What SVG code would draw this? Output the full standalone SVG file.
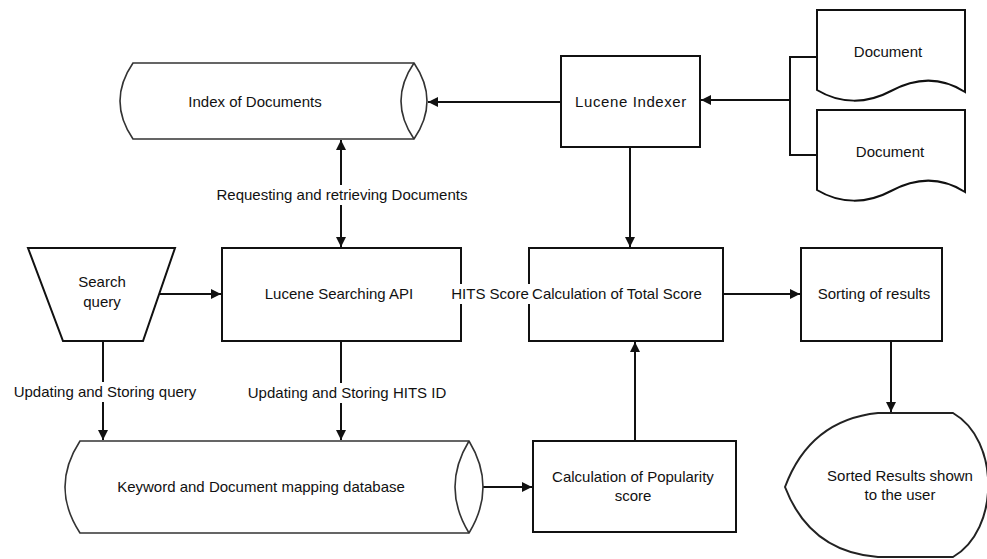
<svg xmlns="http://www.w3.org/2000/svg" width="987" height="559" viewBox="0 0 987 559">
<style>
.box{fill:#fff;stroke:#111;stroke-width:2}
.cyl{fill:#fff;stroke:#333;stroke-width:1.6}
.ln{fill:none;stroke:#111;stroke-width:2}
.t{font-family:"Liberation Sans",Arial,sans-serif;font-size:15px;fill:#111;text-anchor:middle}
.bg{fill:#fff;stroke:none}
</style>
<defs>
<marker id="ah" viewBox="0 0 10 10" refX="10" refY="5" markerWidth="10" markerHeight="10" markerUnits="userSpaceOnUse" orient="auto-start-reverse">
<path d="M0,0 L10,5 L0,10 Z" fill="#111"/>
</marker>
</defs>
<rect width="987" height="559" fill="#fff"/>

<g id="connectors">
<path class="ln" d="M561,102 H428" marker-end="url(#ah)"/>
<path class="ln" d="M817,57 H790 V155 H817 M790,100 H701" marker-end="url(#ah)"/>
<path class="ln" d="M630,147 V247" marker-end="url(#ah)"/>
<path class="ln" d="M341,140 V247" marker-start="url(#ah)" marker-end="url(#ah)"/>
<path class="ln" d="M157,294 H221" marker-end="url(#ah)"/>
<path class="ln" d="M723,294 H800" marker-end="url(#ah)"/>
<path class="ln" d="M891,341 V412" marker-end="url(#ah)"/>
<path class="ln" d="M103,341 V440" marker-end="url(#ah)"/>
<path class="ln" d="M341,341 V440" marker-end="url(#ah)"/>
<path class="ln" d="M483,487 H532" marker-end="url(#ah)"/>
<path class="ln" d="M635,441 V342" marker-end="url(#ah)"/>
<rect class="bg" x="214" y="185" width="256" height="20"/>
<text class="t" x="342" y="200">Requesting and retrieving Documents</text>
<rect class="bg" x="12" y="382" width="186" height="20"/>
<text class="t" x="105" y="397">Updating and Storing query</text>
<rect class="bg" x="243" y="383" width="207" height="20"/>
<text class="t" x="347" y="398">Updating and Storing HITS ID</text>
</g>

<g id="index-of-documents">
<path class="cyl" d="M133,63 H414 Q440,101 414,139 H133 Q107,101 133,63 Z"/>
<path class="cyl" fill="none" d="M414,63 Q388,101 414,139"/>
<text class="t" x="255" y="107">Index of Documents</text>
</g>

<g id="lucene-indexer">
<rect class="box" x="561" y="56" width="139" height="91"/>
<text class="t" x="631" y="107" style="letter-spacing:0.6px">Lucene Indexer</text>
</g>

<g id="document-1">
<path class="box" d="M817,10 H965 V92 C940,76 915,78 891,91 C867,104 840,104 817,90 Z"/>
<text class="t" x="888" y="57">Document</text>
</g>

<g id="document-2">
<path class="box" d="M817,110 H965 V192 C940,176 915,178 891,191 C867,204 840,204 817,190 Z"/>
<text class="t" x="890" y="157">Document</text>
</g>

<g id="search-query">
<path class="box" d="M28,248 H175 L143,341 H63 Z"/>
<text class="t" x="102" y="287">Search</text>
<text class="t" x="102" y="307">query</text>
</g>

<g id="lucene-searching-api">
<rect class="box" x="222" y="248" width="239" height="93"/>
<text class="t" x="339" y="299">Lucene Searching API</text>
</g>

<g id="total-score">
<rect class="box" x="529" y="248" width="194" height="93"/>
</g>

<g id="sorting">
<rect class="box" x="801" y="248" width="141" height="93"/>
<text class="t" x="874" y="299">Sorting of results</text>
</g>

<g id="hits-label">
<rect class="bg" x="451" y="284" width="254" height="20"/>
<text class="t" x="490" y="299">HITS Score</text>
<text class="t" x="617" y="299">Calculation of Total Score</text>
</g>

<g id="keyword-db">
<path class="cyl" d="M80,441 H469 Q497,487 469,533 H80 Q50,487 80,441 Z"/>
<path class="cyl" fill="none" d="M469,441 Q441,487 469,533"/>
<text class="t" x="261" y="492">Keyword and Document mapping database</text>
</g>

<g id="popularity">
<rect class="box" x="533" y="441" width="203" height="91"/>
<text class="t" x="633" y="482">Calculation of Popularity</text>
<text class="t" x="633" y="501">score</text>
</g>

<g id="sorted-results">
<path class="cyl" style="stroke:#222;stroke-width:2" d="M878,413 H953 C1000,440 1000,530 953,557 H878 Q810,552 785,487 Q810,420 878,413 Z"/>
<text class="t" x="900" y="481">Sorted Results shown</text>
<text class="t" x="900" y="500">to the user</text>
</g>
</svg>
